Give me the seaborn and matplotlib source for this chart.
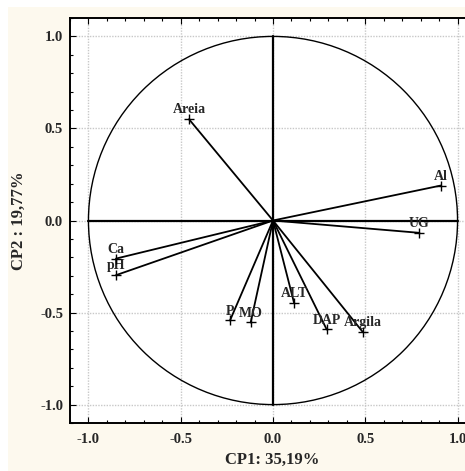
import matplotlib
matplotlib.use('Agg')
import matplotlib.pyplot as plt
from matplotlib.patches import Circle, Rectangle
from matplotlib.ticker import MultipleLocator
import seaborn as sns
import pandas as pd

# loadings on the first two principal components
variables = ['Areia', 'Al', 'UG', 'Ca', 'pH', 'P', 'MO', 'ALT', 'DAP', 'Argila']
cp1 = [-0.455, 0.910, 0.793, -0.851, -0.851, -0.233, -0.121, 0.114, 0.291, 0.486]
cp2 = [0.550, 0.190, -0.067, -0.207, -0.297, -0.543, -0.554, -0.447, -0.592, -0.605]
ticks = [-1.0, -0.5, 0.0, 0.5, 1.0]
tick_labels = ['-1.0', '-0.5', '0.0', '0.5', '1.0']
xlabel = 'CP1: 35,19%'
ylabel = 'CP2 : 19,77%'

df = pd.DataFrame({'var': variables, 'cp1': cp1, 'cp2': cp2})

sns.set_style('white')
plt.rcParams['font.family'] = ['Liberation Serif', 'DejaVu Serif']
plt.rcParams['font.weight'] = 'bold'

fig = plt.figure(figsize=(4.65, 4.71), dpi=100, facecolor='white')
fig.patches.append(Rectangle((8 / 465, 0), 1, (471 - 7) / 471, transform=fig.transFigure,
                             facecolor='#fdf9ee', edgecolor='none', zorder=-10))
ax = fig.add_axes([70 / 465, 48 / 471, 406 / 465, 405 / 471])
ax.set_facecolor('white')

ax.set_xlim(-1.1, 1.1)
ax.set_ylim(-1.1, 1.1)

# grid
for t in ticks:
    ax.axvline(t, color='#c8c8c8', lw=1.0, ls=(0, (1, 1)), zorder=0)
    ax.axhline(t, color='#c8c8c8', lw=1.0, ls=(0, (1, 1)), zorder=0)

# unit circle and axes through origin
ax.add_patch(Circle((0, 0), 1.0, fill=False, edgecolor='black', lw=1.0, zorder=2))
ax.plot([-1, 1], [0, 0], color='black', lw=1.6, zorder=2)
ax.plot([0, 0], [-1, 1], color='black', lw=1.6, zorder=2)

# vectors
for _, r in df.iterrows():
    ax.plot([0, r['cp1']], [0, r['cp2']], color='black', lw=1.3, zorder=3)
sns.scatterplot(data=df, x='cp1', y='cp2', marker='+', color='black', s=60,
                linewidth=1.0, ax=ax, zorder=4, legend=False)
for _, r in df.iterrows():
    ax.annotate(r['var'], (r['cp1'], r['cp2']), xytext=(0, 2), textcoords='offset points',
                ha='center', va='bottom', fontsize=10, fontweight='bold')

ax.set_xticks(ticks)
ax.set_xticklabels(tick_labels)
ax.set_yticks(ticks)
ax.set_yticklabels(tick_labels)
ax.xaxis.set_minor_locator(MultipleLocator(0.1))
ax.yaxis.set_minor_locator(MultipleLocator(0.1))
ax.tick_params(which='both', direction='in', top=True, bottom=True, left=True, right=True,
               color='black', width=0.8)
ax.tick_params(which='major', length=4)
ax.tick_params(which='minor', length=2.5)
ax.tick_params(axis='x', which='major', pad=7, labelsize=10.5)
ax.tick_params(axis='y', which='major', pad=5, labelsize=10.5)
for lab in ax.get_xticklabels() + ax.get_yticklabels():
    lab.set_fontweight('bold')

for s in ax.spines.values():
    s.set_color('black')
    s.set_linewidth(1.4)

ax.set_xlabel(xlabel, fontsize=12, fontweight='bold')
ax.set_ylabel(ylabel, fontsize=12, fontweight='bold')
ax.xaxis.set_label_coords(0.4975, (423 - 452) / 405)
ax.yaxis.set_label_coords((27 - 70) / 406, 0.5)

fig.savefig('out.png', dpi=100, facecolor=fig.get_facecolor())
